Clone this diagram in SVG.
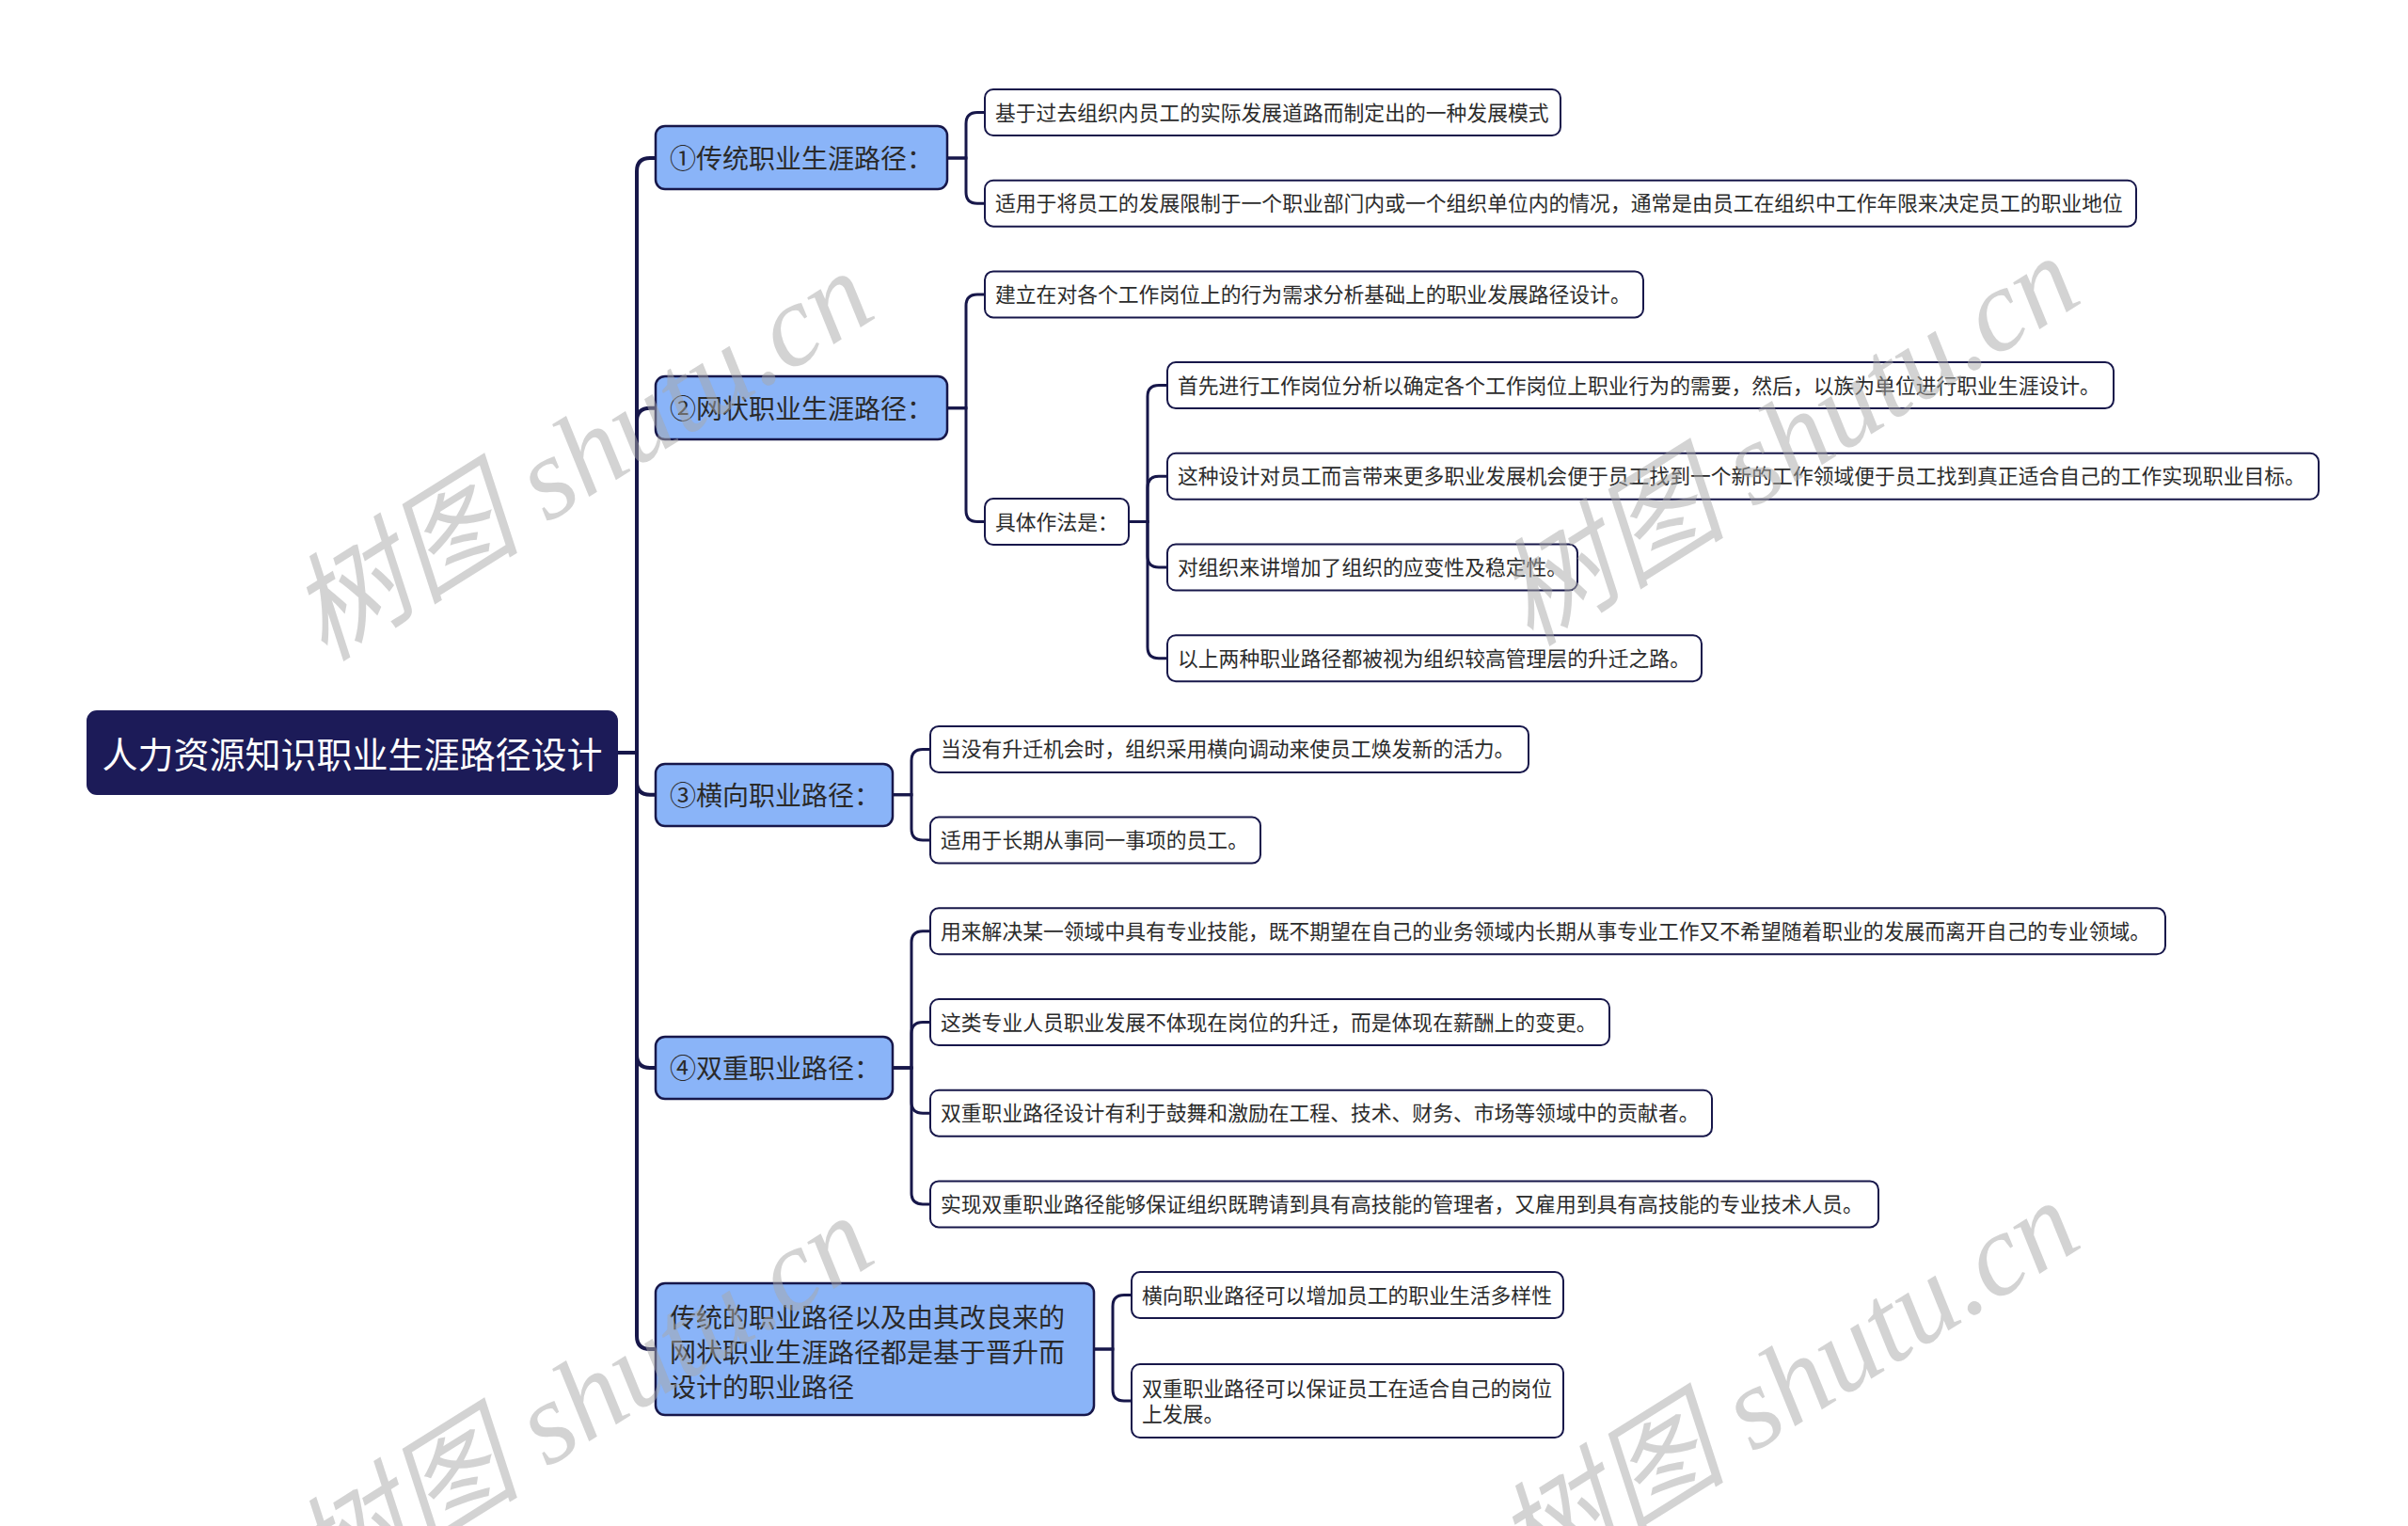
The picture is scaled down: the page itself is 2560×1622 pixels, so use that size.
<svg xmlns="http://www.w3.org/2000/svg" width="2560" height="1622" viewBox="0 0 2560 1622">
<style>
.bg{fill:#ffffff}
.root rect{fill:#1c1b58;stroke:#1c1b58;stroke-width:2}
.root text{fill:#ffffff;font-family:"Noto Sans CJK SC","Noto Sans",sans-serif;font-size:38px;text-anchor:middle;dominant-baseline:central}
.l1 rect{fill:#8ab4f8;stroke:#17174a;stroke-width:2.5}
.l1 text{fill:#2a2a2a;font-family:"Noto Sans CJK SC","Noto Sans",sans-serif;font-size:28px;dominant-baseline:central}
.leaf rect{fill:#ffffff;stroke:#17174a;stroke-width:2}
.leaf text{fill:#2b2b2b;font-family:"Noto Sans CJK SC","Noto Sans",sans-serif;font-size:21.8px;dominant-baseline:central}
.trunk path{fill:none;stroke:#17174a;stroke-width:4}
.sub path{fill:none;stroke:#17174a;stroke-width:3}
.wm{fill:#a8a8a8;fill-opacity:0.5;font-family:"Liberation Serif","Noto Sans CJK SC",serif;font-style:italic;font-size:124px}
</style>
<rect class="bg" x="0" y="0" width="2560" height="1622"/>

<g id="connectors">
  <g class="trunk">
    <path d="M656,800 H677 V181.9 Q677,167.9 691,167.9 H697"/>
    <path d="M656,800 H677 V447.8 Q677,433.8 691,433.8 H697"/>
    <path d="M656,800 H677 V830.8 Q677,844.8 691,844.8 H697"/>
    <path d="M656,800 H677 V1120.9 Q677,1134.9 691,1134.9 H697"/>
    <path d="M656,800 H677 V1420 Q677,1434 691,1434 H697"/>
  </g>
  <g class="sub">
    <path d="M1007,167.9 H1027 V131.5 Q1027,119.5 1039,119.5 H1047"/>
    <path d="M1007,167.9 H1027 V204.2 Q1027,216.2 1039,216.2 H1047"/>
    <path d="M1007,433.8 H1027 V324.9 Q1027,312.9 1039,312.9 H1047"/>
    <path d="M1007,433.8 H1027 V542.6 Q1027,554.6 1039,554.6 H1047"/>
    <path d="M1200,554.6 H1220 V421.6 Q1220,409.6 1232,409.6 H1241"/>
    <path d="M1200,554.6 H1220 V518.3 Q1220,506.3 1232,506.3 H1241"/>
    <path d="M1200,554.6 H1220 V591 Q1220,603 1232,603 H1241"/>
    <path d="M1200,554.6 H1220 V687.7 Q1220,699.7 1232,699.7 H1241"/>
    <path d="M949,844.8 H969 V808.4 Q969,796.4 981,796.4 H989"/>
    <path d="M949,844.8 H969 V881.1 Q969,893.1 981,893.1 H989"/>
    <path d="M949,1134.9 H969 V1001.8 Q969,989.8 981,989.8 H989"/>
    <path d="M949,1134.9 H969 V1098.5 Q969,1086.5 981,1086.5 H989"/>
    <path d="M949,1134.9 H969 V1171.2 Q969,1183.2 981,1183.2 H989"/>
    <path d="M949,1134.9 H969 V1267.9 Q969,1279.9 981,1279.9 H989"/>
    <path d="M1163,1434 H1183 V1388.6 Q1183,1376.6 1195,1376.6 H1203"/>
    <path d="M1163,1434 H1183 V1477 Q1183,1489 1195,1489 H1203"/>
  </g>
</g>

<g id="root" class="root">
  <rect x="93" y="756" width="563" height="88" rx="10"/>
  <text x="374.5" y="799">人力资源知识职业生涯路径设计</text>
</g>

<g id="n1" class="l1">
  <rect x="697" y="134" width="310" height="67" rx="10"/>
  <text x="712" y="166.5">①传统职业生涯路径：</text>
</g>
<g id="n2" class="l1">
  <rect x="697" y="400" width="310" height="67" rx="10"/>
  <text x="712" y="432.5">②网状职业生涯路径：</text>
</g>
<g id="n3" class="l1">
  <rect x="697" y="812" width="252" height="66" rx="10"/>
  <text x="712" y="844">③横向职业路径：</text>
</g>
<g id="n4" class="l1">
  <rect x="697" y="1102" width="252" height="66" rx="10"/>
  <text x="712" y="1134">④双重职业路径：</text>
</g>
<g id="n5" class="l1">
  <rect x="697" y="1364" width="466" height="140" rx="10"/>
  <text x="712" y="1399">传统的职业路径以及由其改良来的</text>
  <text x="712" y="1436">网状职业生涯路径都是基于晋升而</text>
  <text x="712" y="1473">设计的职业路径</text>
</g>

<g id="leaf1a" class="leaf">
  <rect x="1047" y="95" width="612" height="49" rx="9"/>
  <text x="1058" y="118">基于过去组织内员工的实际发展道路而制定出的一种发展模式</text>
</g>
<g id="leaf1b" class="leaf">
  <rect x="1047" y="191.7" width="1224" height="49" rx="9"/>
  <text x="1058" y="214.7">适用于将员工的发展限制于一个职业部门内或一个组织单位内的情况，通常是由员工在组织中工作年限来决定员工的职业地位</text>
</g>
<g id="leaf2a" class="leaf">
  <rect x="1047" y="288.4" width="700" height="49" rx="9"/>
  <text x="1058" y="311.4">建立在对各个工作岗位上的行为需求分析基础上的职业发展路径设计。</text>
</g>
<g id="leaf2b" class="leaf">
  <rect x="1047" y="530.1" width="153" height="49" rx="9"/>
  <text x="1058" y="553.1">具体作法是：</text>
</g>
<g id="leaf2b1" class="leaf">
  <rect x="1241" y="385.1" width="1006" height="49" rx="9"/>
  <text x="1252" y="408.1">首先进行工作岗位分析以确定各个工作岗位上职业行为的需要，然后，以族为单位进行职业生涯设计。</text>
</g>
<g id="leaf2b2" class="leaf">
  <rect x="1241" y="481.8" width="1224" height="49" rx="9"/>
  <text x="1252" y="504.8">这种设计对员工而言带来更多职业发展机会便于员工找到一个新的工作领域便于员工找到真正适合自己的工作实现职业目标。</text>
</g>
<g id="leaf2b3" class="leaf">
  <rect x="1241" y="578.5" width="436" height="49" rx="9"/>
  <text x="1252" y="601.5">对组织来讲增加了组织的应变性及稳定性。</text>
</g>
<g id="leaf2b4" class="leaf">
  <rect x="1241" y="675.2" width="568" height="49" rx="9"/>
  <text x="1252" y="698.2">以上两种职业路径都被视为组织较高管理层的升迁之路。</text>
</g>
<g id="leaf3a" class="leaf">
  <rect x="989" y="771.9" width="636" height="49" rx="9"/>
  <text x="1000" y="794.9">当没有升迁机会时，组织采用横向调动来使员工焕发新的活力。</text>
</g>
<g id="leaf3b" class="leaf">
  <rect x="989" y="868.6" width="351" height="49" rx="9"/>
  <text x="1000" y="891.6">适用于长期从事同一事项的员工。</text>
</g>
<g id="leaf4a" class="leaf">
  <rect x="989" y="965.3" width="1313" height="49" rx="9"/>
  <text x="1000" y="988.3">用来解决某一领域中具有专业技能，既不期望在自己的业务领域内长期从事专业工作又不希望随着职业的发展而离开自己的专业领域。</text>
</g>
<g id="leaf4b" class="leaf">
  <rect x="989" y="1062" width="722" height="49" rx="9"/>
  <text x="1000" y="1085">这类专业人员职业发展不体现在岗位的升迁，而是体现在薪酬上的变更。</text>
</g>
<g id="leaf4c" class="leaf">
  <rect x="989" y="1158.7" width="831" height="49" rx="9"/>
  <text x="1000" y="1181.7">双重职业路径设计有利于鼓舞和激励在工程、技术、财务、市场等领域中的贡献者。</text>
</g>
<g id="leaf4d" class="leaf">
  <rect x="989" y="1255.4" width="1008" height="49" rx="9"/>
  <text x="1000" y="1278.4">实现双重职业路径能够保证组织既聘请到具有高技能的管理者，又雇用到具有高技能的专业技术人员。</text>
</g>
<g id="leaf5a" class="leaf">
  <rect x="1203" y="1352.1" width="459" height="49" rx="9"/>
  <text x="1214" y="1375.1">横向职业路径可以增加员工的职业生活多样性</text>
</g>
<g id="leaf5b" class="leaf">
  <rect x="1203" y="1450" width="459" height="78" rx="9"/>
  <text x="1214" y="1474">双重职业路径可以保证员工在适合自己的岗位</text>
  <text x="1214" y="1501">上发展。</text>
</g>

<g id="watermarks">
  <text class="wm" transform="translate(345,704) rotate(-32)">树图 shutu.cn</text>
  <text class="wm" transform="translate(1627,688) rotate(-32)">树图 shutu.cn</text>
  <text class="wm" transform="translate(345,1708) rotate(-32)">树图 shutu.cn</text>
  <text class="wm" transform="translate(1627,1692) rotate(-32)">树图 shutu.cn</text>
</g>
</svg>
